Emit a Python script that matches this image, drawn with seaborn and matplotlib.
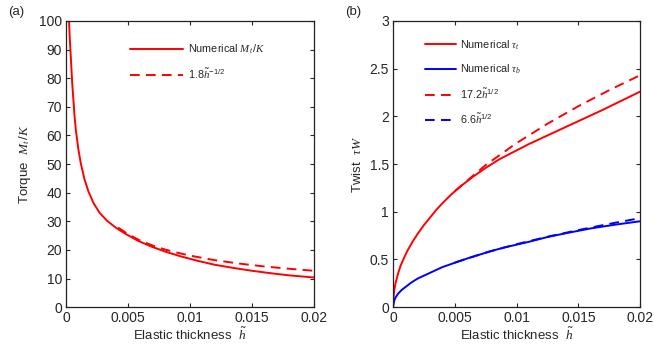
import pandas as pd
import matplotlib
matplotlib.use('Agg')
import matplotlib.pyplot as plt
import seaborn as sns

# (a) torque vs elastic thickness
h_torque = [0.0002, 0.00024, 0.0003, 0.0004, 0.0005, 0.0006, 0.0007, 0.0008, 0.0010,
            0.0012, 0.0015, 0.0018, 0.0022, 0.0027, 0.0033, 0.0040, 0.0048, 0.0058,
            0.0068, 0.0080, 0.0092, 0.0105, 0.0120, 0.0135, 0.0150, 0.0165, 0.0180,
            0.0200]
torque_num = [112, 100, 94, 86, 78, 72, 66, 61.5, 55,
              50, 44.5, 40.5, 36.5, 33, 30.2, 27.8, 25.6, 23.2,
              21.3, 19.4, 17.8, 16.3, 14.8, 13.7, 12.7, 11.85, 11.1,
              10.35]
h_torque_fit = [0.0042, 0.005, 0.006, 0.007, 0.008, 0.009, 0.010, 0.012, 0.014,
                0.016, 0.018, 0.020]
torque_fit = [27.8, 25.5, 23.2, 21.5, 20.1, 19.0, 18.0, 16.4, 15.2,
              14.2, 13.4, 12.7]

# (b) twist vs elastic thickness
h_tau_t = [0.0, 0.0001, 0.0002, 0.0004, 0.0006, 0.0009, 0.0012, 0.0016, 0.0020,
           0.0025, 0.0030, 0.0035, 0.0040, 0.0047, 0.0055, 0.0065, 0.0075, 0.0086,
           0.0098, 0.0110, 0.0125, 0.0140, 0.0155, 0.0170, 0.0185, 0.0200]
tau_t_num = [0.05, 0.18, 0.25, 0.35, 0.43, 0.52, 0.60, 0.69, 0.77,
             0.86, 0.94, 1.02, 1.09, 1.18, 1.27, 1.37, 1.46, 1.55,
             1.63, 1.71, 1.80, 1.89, 1.98, 2.07, 2.165, 2.26]
h_tau_b = [0.0, 0.0001, 0.0002, 0.0004, 0.0007, 0.0010, 0.0015, 0.0020, 0.0030,
           0.0040, 0.0050, 0.0060, 0.0070, 0.0080, 0.0090, 0.0100, 0.0110, 0.0125,
           0.0140, 0.0160, 0.0180, 0.0200]
tau_b_num = [0.0, 0.07, 0.10, 0.14, 0.18, 0.21, 0.26, 0.30, 0.36,
             0.42, 0.465, 0.51, 0.55, 0.59, 0.625, 0.655, 0.685, 0.735,
             0.775, 0.825, 0.865, 0.90]
h_tau_fit = [0.005, 0.0075, 0.010, 0.0125, 0.015, 0.0175, 0.020]
tau_t_fit = [1.216, 1.49, 1.72, 1.923, 2.107, 2.275, 2.432]
tau_b_fit = [0.467, 0.572, 0.66, 0.738, 0.808, 0.873, 0.933]

x_ticks = [0, 0.005, 0.01, 0.015, 0.02]
x_tick_labels = ['0', '0.005', '0.01', '0.015', '0.02']
y_ticks_a = list(range(0, 101, 10))
y_ticks_b = [0, 0.5, 1, 1.5, 2, 2.5, 3]
y_tick_labels_b = ['0', '0.5', '1', '1.5', '2', '2.5', '3']

sns.set_theme(style='ticks')
plt.rcParams['font.family'] = ['Liberation Sans', 'DejaVu Sans']
plt.rcParams['mathtext.fontset'] = 'custom'
plt.rcParams['mathtext.rm'] = 'Liberation Sans'
plt.rcParams['mathtext.it'] = 'Liberation Serif:italic'
plt.rcParams['mathtext.cal'] = 'Liberation Serif:italic'

fig = plt.figure(figsize=(6.54, 3.49), dpi=100)
ax1 = fig.add_axes([0.101, 0.120, 0.379, 0.820])
ax2 = fig.add_axes([0.601, 0.120, 0.378, 0.820])

lw = 1.4
dash = (0, (5.0, 3.2))
fs = 9.5
lfs = 7.8

df_a = pd.DataFrame({'h': h_torque, 'v': torque_num})
df_a_fit = pd.DataFrame({'h': h_torque_fit, 'v': torque_fit})
sns.lineplot(data=df_a, x='h', y='v', ax=ax1, color='red', lw=lw,
             label=r'Numerical $M_t\,/K$')
sns.lineplot(data=df_a_fit, x='h', y='v', ax=ax1, color='red', lw=lw,
             linestyle=dash, label=r'1.8$\tilde{h}^{-1/2}$')

df_t = pd.DataFrame({'h': h_tau_t, 'v': tau_t_num})
df_b = pd.DataFrame({'h': h_tau_b, 'v': tau_b_num})
df_t_fit = pd.DataFrame({'h': h_tau_fit, 'v': tau_t_fit})
df_b_fit = pd.DataFrame({'h': h_tau_fit, 'v': tau_b_fit})
sns.lineplot(data=df_t, x='h', y='v', ax=ax2, color='red', lw=lw,
             label=r'Numerical $\tau_t$')
sns.lineplot(data=df_b, x='h', y='v', ax=ax2, color='blue', lw=lw,
             label=r'Numerical $\tau_b$')
sns.lineplot(data=df_t_fit, x='h', y='v', ax=ax2, color='red', lw=lw,
             linestyle=dash, label=r'17.2$\tilde{h}^{1/2}$')
sns.lineplot(data=df_b_fit, x='h', y='v', ax=ax2, color='blue', lw=lw,
             linestyle=dash, label=r'6.6$\tilde{h}^{1/2}$')

for ax in (ax1, ax2):
    ax.set_xlim(0, 0.02)
    ax.set_xticks(x_ticks)
    ax.set_xticklabels(x_tick_labels)
    ax.set_xlabel(r'Elastic thickness  $\tilde{h}$', fontsize=fs, labelpad=1)
    ax.tick_params(direction='in', top=True, right=True, labelsize=fs + 0.5,
                   length=3, width=0.8, pad=3)
    for s in ax.spines.values():
        s.set_linewidth(0.9)
        s.set_color('#222222')

ax1.set_ylim(0, 100)
ax1.set_yticks(y_ticks_a)
ax1.set_ylabel(r'Torque  $M_t\,/K$', fontsize=fs, labelpad=4)

ax2.set_ylim(0, 3)
ax2.set_yticks(y_ticks_b)
ax2.set_yticklabels(y_tick_labels_b)
ax2.set_ylabel(r'Twist  $\tau W$', fontsize=fs, labelpad=4)

ax1.legend(loc='upper left', bbox_to_anchor=(0.258, 0.925), frameon=False,
           fontsize=lfs, handlelength=4.9, handletextpad=0.45, labelspacing=1.0,
           borderpad=0, borderaxespad=0)
ax2.legend(loc='upper left', bbox_to_anchor=(0.13, 0.94), frameon=False,
           fontsize=lfs, handlelength=2.8, handletextpad=0.45, labelspacing=1.0,
           borderpad=0, borderaxespad=0)

fig.text(0.012, 0.965, '(a)', fontsize=fs, va='center')
fig.text(0.527, 0.965, '(b)', fontsize=fs, va='center')

fig.savefig('out.png', dpi=100)
